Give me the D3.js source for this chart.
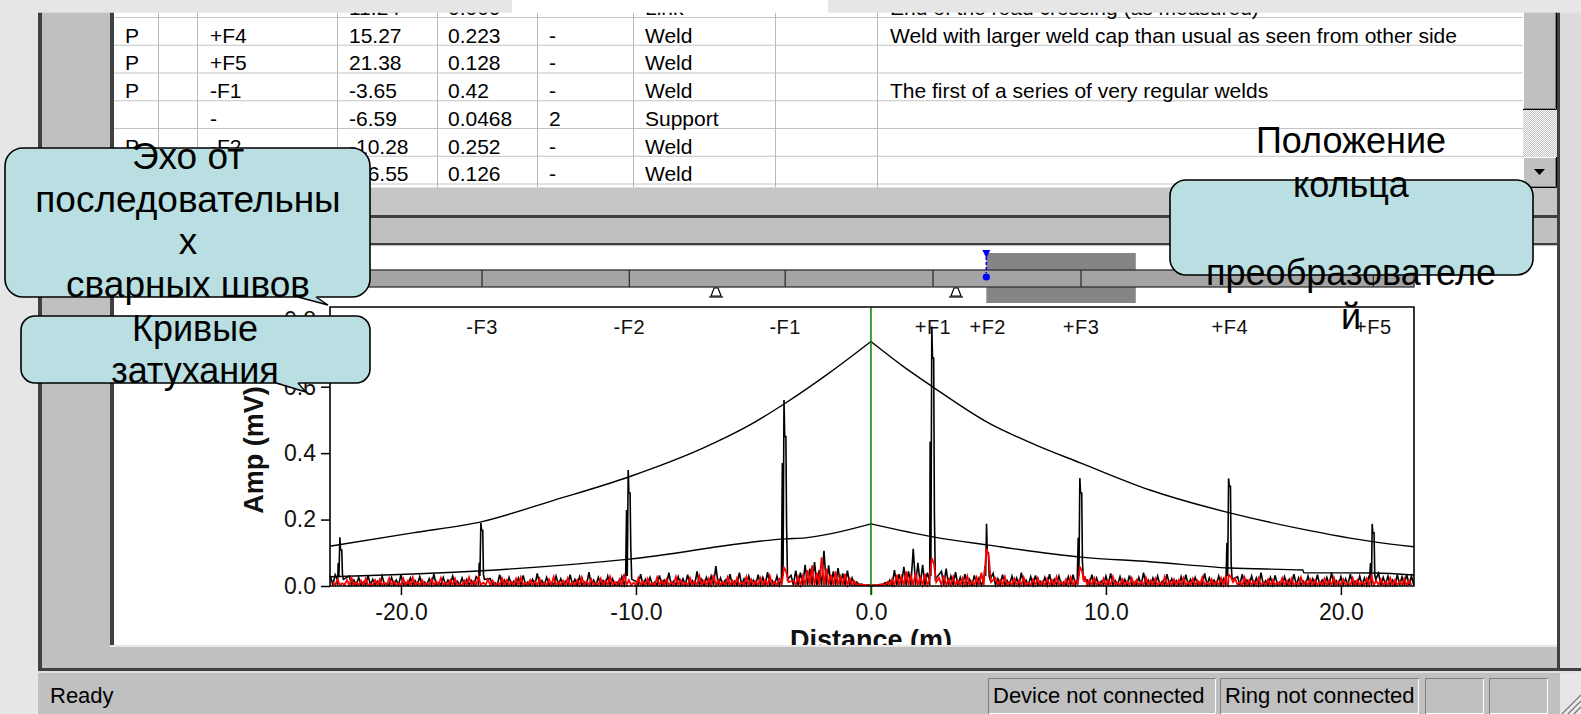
<!DOCTYPE html>
<html><head><meta charset="utf-8">
<script src="https://cdn.jsdelivr.net/npm/d3@7"></script>
<style>
html,body{margin:0;padding:0;background:#e6e6e6;overflow:hidden}
svg{display:block}
text{font-family:"Liberation Sans",Arial,sans-serif}
</style></head><body>
<svg id="c" width="1581" height="714"></svg>
<script>
// ================= DATA =================
const tableRows = [
  ['', '', '-', '11.24', '0.000', '', 'Link', '', 'End of the road crossing (as measured)'],
  ['P', '', '+F4', '15.27', '0.223', '-', 'Weld', '', 'Weld with larger weld cap than usual as seen from other side'],
  ['P', '', '+F5', '21.38', '0.128', '-', 'Weld', '', ''],
  ['P', '', '-F1', '-3.65', '0.42', '-', 'Weld', '', 'The first of a series of very regular welds'],
  ['', '', '-', '-6.59', '0.0468', '2', 'Support', '', ''],
  ['P', '', '-F2', '-10.28', '0.252', '-', 'Weld', '', ''],
  ['P', '', '-F3', '-16.55', '0.126', '-', 'Weld', '', '']
];
const xDomain = [-23.02, 23.11];
const yDomain = [0, 0.84];
const xTicks = [-20, -10, 0, 10, 20];
const yTicks = [0, 0.2, 0.4, 0.6, 0.8];
const xTitle = 'Distance (m)';
const yTitle = 'Amp (mV)';
const featureLabels = ['-F3', '-F2', '-F1', '+F1', '+F2', '+F3', '+F4', '+F5'];
const featureLabelX = [-16.55, -10.28, -3.65, 2.64, 4.97, 8.94, 15.27, 21.38];
// upper and lower distance-amplitude (decay) curves
const upperX = [-23.02, -19.5, -16.55, -13.5, -10.28, -7.15, -5.15, -3.63, -1.8, 0, 1.3, 2.64, 5.0, 7.0, 8.94, 11.87, 15.27, 18.3, 21.4, 23.11];
const upperY = [0.120, 0.160, 0.194, 0.258, 0.329, 0.415, 0.485, 0.551, 0.640, 0.736, 0.665, 0.599, 0.491, 0.425, 0.370, 0.289, 0.220, 0.172, 0.133, 0.118];
const lowerX = [-23.02, -16.55, -10.28, -3.63, -2.8, 0, 2.64, 5.0, 8.94, 11.87, 15.27, 18.38, 18.42, 21.4, 23.11];
const lowerY = [0.028, 0.046, 0.081, 0.142, 0.145, 0.187, 0.148, 0.123, 0.087, 0.073, 0.054, 0.048, 0.040, 0.039, 0.033];
// echo peaks of the black trace
const spikeX   = [-22.55, -16.55, -10.28, -3.65, 2.64, 4.97, 8.94, 15.27, 21.38];
const spikeTop = [0.147, 0.190, 0.349, 0.560, 0.781, 0.187, 0.325, 0.324, 0.187];
const spikeMid = [0.108, 0.168, 0.280, 0.450, 0.686, 0.100, 0.280, 0.300, 0.160];
const spikeLow = [0.069, 0.070, 0.229, 0.370, 0.435, 0.060, 0.145, 0.130, 0.069];
// peaks of the red trace
const redSpikeX = [-3.65, 2.64, 4.97, 8.94, 15.27];
const redSpikeH = [0.055, 0.084, 0.113, 0.057, 0.035];
// background noise (mV*1000), one value every 0.2 m
const blackNoiseStart = -23.0, redNoiseStart = -22.9, noiseStep = 0.2;
const blackNoise = [30,34,28,36,30,18,26,12,32,20, 14,30,8,26,18,34,10,24,16,28, 12,22,36,10,26,18,30,14,24,20,
 16,28,12,30,22,10,34,18,26,14, 24,32,12,20,38,16,26,10,30,22, 14,34,20,28,12,42,18,26,16,30,
 22,12,28,18,30,14,36,20,26,12, 32,18,40,14,28,22,34,16,44,20, 26,30,60,24,18,36,14,40,22,30,
 18,34,26,42,16,30,38,20,32,46, 40,64,52,72,48,106,62,44,54,38, 46,24,12,6,3,1,2,5,10,18,
 48,36,58,44,112,70,64,40,56,50, 44,52,30,42,26,36,20,32,24,30, 28,38,22,34,16,30,24,40,18,28,
 32,14,26,36,20,30,12,28,34,22, 26,18,34,24,14,30,38,16,28,20, 32,12,26,40,18,24,30,14,36,22,
 16,28,34,20,26,12,38,24,18,30, 22,34,14,28,36,18,30,24,40,16, 26,32,12,28,20,36,24,14,30,22,
 34,18,26,40,16,28,22,36,14,30, 24,32,20,38,26,30,18,34,28,36, 30];
const redNoise = [12,20,8,18,24,10,16,22,6,18, 20,10,24,14,8,22,16,26,12,18, 8,20,14,24,10,18,22,6,16,26,
 14,28,10,20,16,8,24,18,12,22, 26,10,18,14,22,8,20,28,12,16, 24,10,18,26,14,20,8,22,16,28,
 12,20,36,18,10,24,14,22,8,26, 16,20,12,28,18,10,24,14,30,16, 22,34,18,12,26,16,24,10,28,20,
 14,24,18,30,12,22,34,26,16,28, 30,48,62,40,86,52,34,44,28,36, 22,14,6,3,1,1,2,6,12,20,
 34,28,44,30,40,26,36,36,30,24, 32,20,28,16,24,30,14,26,40,36, 44,24,18,28,12,22,16,26,10,20,
 24,14,22,18,28,12,20,26,16,22, 30,18,24,12,22,16,28,10,20,14, 24,18,12,26,16,22,10,28,14,20,
 18,24,12,22,16,26,10,20,14,24, 30,16,22,12,26,18,14,24,10,20, 18,12,24,16,22,10,26,14,20,18,
 12,22,16,26,14,20,10,24,18,12, 22,30,16,20,12,24,18,14,22,16];
// pipe diagram
const pipeJoints = [-22.55, -16.55, -10.28, -3.65, 2.64, 8.94, 15.27, 21.38];
const supportX = [-6.59, 3.62];
const ringRange = [4.91, 11.27];
// callouts and status bar
const calloutEcho = ['Эхо от', 'последовательны', 'х', 'сварных швов'];
const calloutDecay = ['Кривые', 'затухания'];
const calloutRing = ['Положение', 'кольца', '', 'преобразователе', 'й'];
const statusLeft = 'Ready';
const statusPanels = ['Device not connected', 'Ring not connected', '', ''];

// ================= DRAWING =================
const svg = d3.select('#c');
const defs = svg.append('defs');
const pat = defs.append('pattern').attr('id', 'dither').attr('width', 2).attr('height', 2).attr('patternUnits', 'userSpaceOnUse');
pat.append('rect').attr('width', 2).attr('height', 2).attr('fill', '#c0c0c0');
pat.append('rect').attr('width', 1).attr('height', 1).attr('fill', '#fff');
pat.append('rect').attr('x', 1).attr('y', 1).attr('width', 1).attr('height', 1).attr('fill', '#fff');
defs.append('clipPath').attr('id', 'tableClip').append('rect').attr('x', 114).attr('y', 0).attr('width', 1409).attr('height', 187);
defs.append('clipPath').attr('id', 'paneClip').append('rect').attr('x', 114).attr('y', 245.5).attr('width', 1443).attr('height', 399.5);

function rect(g, x, y, w, h, fill) { return g.append('rect').attr('x', x).attr('y', y).attr('width', w).attr('height', h).attr('fill', fill); }
function bevel(g, x0, y0, w, h) {
  rect(g, x0, y0, w, h, '#c0c0c0');
  g.append('path').attr('d', `M${x0 + 0.5},${y0 + h - 1}V${y0 + 0.5}H${x0 + w - 1}`).attr('stroke', '#fff').attr('fill', 'none');
  g.append('path').attr('d', `M${x0},${y0 + h - 0.5}H${x0 + w - 0.5}V${y0}`).attr('stroke', '#000').attr('fill', 'none');
  g.append('path').attr('d', `M${x0 + 1},${y0 + h - 1.5}H${x0 + w - 1.5}V${y0 + 1}`).attr('stroke', '#808080').attr('fill', 'none');
}
function sunken(g, x0, y0, w, h) {
  g.append('path').attr('d', `M${x0 + 0.5},${y0 + h}V${y0 + 0.5}H${x0 + w}`).attr('stroke', '#808080').attr('fill', 'none');
  g.append('path').attr('d', `M${x0 + 1},${y0 + h - 0.5}H${x0 + w - 0.5}V${y0 + 1}`).attr('stroke', '#fff').attr('fill', 'none');
}

const bg = svg.append('g');
rect(bg, 0, 0, 1581, 714, '#e6e6e6');
rect(bg, 38, 0, 1522, 714, '#c0c0c0');
rect(bg, 38, 0, 4, 671, '#404040');
rect(bg, 1560, 0, 21, 671, '#dcdcdc');

// ---- table pane ----
rect(bg, 110, 0, 4, 218, '#404040');
rect(bg, 114, 0, 1409, 187, '#fff');
const tg = svg.append('g').attr('clip-path', 'url(#tableClip)');
const rowH = 27.75, row1Top = 18;
const colLines = [158, 197, 337, 437, 537, 633, 775, 877];
const cellX = [125, null, 210, 349, 448, 549, 645, null, 890];
tableRows.forEach((r, i) => {
  const top = row1Top + (i - 1) * rowH;
  tg.append('line').attr('x1', 114).attr('x2', 1523).attr('y1', top + rowH - 0.5).attr('y2', top + rowH - 0.5).attr('stroke', '#c4c4c4');
  r.forEach((c, j) => {
    if (!c || cellX[j] == null) return;
    tg.append('text').attr('x', cellX[j]).attr('y', top + 24.5).attr('font-size', 21).attr('fill', '#000').text(c);
  });
});
colLines.forEach(cx => tg.append('line').attr('x1', cx + 0.5).attr('x2', cx + 0.5).attr('y1', 0).attr('y2', 187).attr('stroke', '#b8b8b8'));

// vertical scrollbar
const sb = svg.append('g');
rect(sb, 1523, 110, 34, 47, 'url(#dither)');
bevel(sb, 1523, 0, 34, 110);
bevel(sb, 1523, 157, 34, 31);
sb.append('path').attr('d', 'M1534,169L1545,169L1539.5,175Z').attr('fill', '#000');

// band between panes
rect(bg, 114, 187, 1446, 28, '#c6c6c6');
rect(bg, 114, 187, 1446, 1, '#e0e0e0');
rect(bg, 110, 215, 1450, 3, '#404040');
rect(bg, 110, 243, 1450, 2.5, '#404040');
rect(bg, 110, 243, 4, 404, '#404040');
rect(bg, 114, 245.5, 1443, 399.5, '#fff');
rect(bg, 110, 645, 1450, 2, '#e8e8e8');
rect(bg, 1557, 0, 3, 671, '#404040');
rect(bg, 38, 668, 1543, 3, '#404040');
rect(bg, 38, 671, 1543, 2, '#e0e0e0');

// ---- chart ----
const x = d3.scaleLinear().domain(xDomain).range([330, 1414]);
const y = d3.scaleLinear().domain(yDomain).range([586, 307]);
const pane = svg.append('g').attr('clip-path', 'url(#paneClip)');

// pipe diagram: ring, pipe bar, joints, supports, ring marker
pane.append('rect').attr('x', x(ringRange[0])).attr('y', 253).attr('width', x(ringRange[1]) - x(ringRange[0])).attr('height', 50).attr('fill', '#858585');
pane.append('rect').attr('x', x(xDomain[0])).attr('y', 270).attr('width', x(xDomain[1]) - x(xDomain[0])).attr('height', 17)
  .attr('fill', '#a4a4a4').attr('stroke', '#303030').attr('stroke-width', 1.3);
pane.selectAll('line.joint').data(pipeJoints).enter().append('line').attr('class', 'joint')
  .attr('x1', d => x(d)).attr('x2', d => x(d)).attr('y1', 270).attr('y2', 287).attr('stroke', '#303030').attr('stroke-width', 1.3);
supportX.forEach(s => {
  const sx = x(s);
  pane.append('path').attr('d', `M${sx - 2},288L${sx + 2},288L${sx + 5},296L${sx - 5},296Z`).attr('fill', '#fff').attr('stroke', '#000').attr('stroke-width', 1.2);
  pane.append('line').attr('x1', sx - 7).attr('x2', sx + 7).attr('y1', 297).attr('y2', 297).attr('stroke', '#000').attr('stroke-width', 1.2);
});
{
  const mx = x(ringRange[0]);
  pane.append('path').attr('d', `M${mx - 4},250L${mx + 4},250L${mx},258Z`).attr('fill', '#0000ff');
  pane.append('line').attr('x1', mx).attr('x2', mx).attr('y1', 257).attr('y2', 273).attr('stroke', '#0000ff').attr('stroke-width', 1.6).attr('stroke-dasharray', '3,2');
  pane.append('circle').attr('cx', mx).attr('cy', 277).attr('r', 3.6).attr('fill', '#0000ff');
}

// axes
const fmt = d => d.toFixed(1);
const xAxis = pane.append('g').attr('transform', 'translate(0,586)')
  .call(d3.axisBottom(x).tickValues(xTicks).tickFormat(fmt).tickSize(9).tickPadding(9));
const yAxis = pane.append('g').attr('transform', 'translate(330,0)')
  .call(d3.axisLeft(y).tickValues(yTicks).tickFormat(fmt).tickSize(9).tickPadding(5));
[xAxis, yAxis].forEach(a => {
  a.attr('font-size', 23).attr('font-family', '"Liberation Sans", Arial, sans-serif');
  a.select('.domain').remove();
  a.selectAll('line').attr('stroke', '#000').attr('stroke-width', 1.5);
  a.selectAll('text').attr('fill', '#111');
});

// feature labels
pane.selectAll('text.flab').data(featureLabels).enter().append('text').attr('class', 'flab')
  .attr('x', (d, i) => x(featureLabelX[i])).attr('y', 334).attr('text-anchor', 'middle')
  .attr('font-size', 20).attr('letter-spacing', 0.5).attr('fill', '#111').text(d => d);

// decay curves (each side of the peak drawn as a smooth monotone curve)
const line = d3.line().x(d => x(d[0])).y(d => y(d[1]));
const smooth = d3.line().x(d => x(d[0])).y(d => y(d[1])).curve(d3.curveMonotoneX);
function drawEnvelope(xs, ys) {
  const pts = xs.map((v, i) => [v, ys[i]]);
  const left = pts.filter(p => p[0] <= 0), right = pts.filter(p => p[0] >= 0);
  [left, right].forEach(part => pane.append('path').attr('d', smooth(part)).attr('fill', 'none').attr('stroke', '#000').attr('stroke-width', 1.4));
}
drawEnvelope(upperX, upperY);
drawEnvelope(lowerX, lowerY);

// traces: noise drawn as a sawtooth from the floor, with echo peaks inserted
const floorV = 0.003;
function tracePoints(noise, start, peaksX, peakFn, halfW) {
  const pts = [];
  noise.forEach((v, i) => {
    const xv = start + i * noiseStep;
    if (peaksX.some(p => Math.abs(p - xv) < halfW)) return;
    pts.push([xv, v / 1000]);
    pts.push([xv + noiseStep / 2, floorV]);
  });
  peaksX.forEach((p, i) => peakFn(p, i).forEach(q => pts.push(q)));
  pts.sort((a, b) => a[0] - b[0]);
  return pts.filter(p => p[0] >= xDomain[0] && p[0] <= xDomain[1]);
}
const blackPts = tracePoints(blackNoise, blackNoiseStart, spikeX, (p, i) => [
  [p - 0.16, 0.02], [p - 0.12, spikeLow[i]], [p - 0.09, 0.03], [p - 0.05, spikeTop[i]],
  [p - 0.02, spikeMid[i]], [p + 0.03, spikeMid[i]], [p + 0.06, spikeLow[i] * 0.5], [p + 0.1, 0.02]
], 0.17);
const redPts = tracePoints(redNoise, redNoiseStart, redSpikeX, (p, i) => [
  [p - 0.16, 0.015], [p - 0.05, redSpikeH[i]], [p + 0.04, redSpikeH[i] * 0.8], [p + 0.14, 0.012]
], 0.16);
pane.append('path').attr('d', line(blackPts)).attr('fill', 'none').attr('stroke', '#000').attr('stroke-width', 1.6);
pane.append('path').attr('d', line(redPts)).attr('fill', 'none').attr('stroke', '#ff0000').attr('stroke-width', 1.8);

// zero marker (green)
pane.append('line').attr('x1', x(0)).attr('x2', x(0)).attr('y1', y(yDomain[1])).attr('y2', 595).attr('stroke', '#008000').attr('stroke-width', 1.5);

// plot frame
pane.append('path').attr('d', `M${x(xDomain[0])},${y(0)}V${y(yDomain[1])}H${x(xDomain[1])}V${y(0)}Z`)
  .attr('fill', 'none').attr('stroke', '#000').attr('stroke-width', 1.6);

// axis titles
pane.append('text').attr('x', x(0)).attr('y', 649).attr('text-anchor', 'middle').attr('font-size', 27).attr('font-weight', 'bold').attr('fill', '#111').text(xTitle);
pane.append('text').attr('transform', 'translate(263,450) rotate(-90)').attr('text-anchor', 'middle').attr('font-size', 27).attr('font-weight', 'bold').attr('fill', '#111').text(yTitle);

// ---- status bar ----
const st = svg.append('g');
st.append('text').attr('x', 50).attr('y', 703).attr('font-size', 22).attr('fill', '#000').text(statusLeft);
const panelX = [988, 1220, 1425, 1489], panelW = [228, 199, 59, 59];
statusPanels.forEach((t, i) => {
  sunken(st, panelX[i], 678, panelW[i], 36);
  if (t) st.append('text').attr('x', panelX[i] + 5).attr('y', 703).attr('font-size', 22).attr('fill', '#000').text(t);
});
[0, 6, 12].forEach(k => {
  st.append('line').attr('x1', 1562 + k).attr('y1', 714).attr('x2', 1581).attr('y2', 695 + k).attr('stroke', '#808080').attr('stroke-width', 1.5);
  st.append('line').attr('x1', 1564 + k).attr('y1', 714).attr('x2', 1581).attr('y2', 697 + k).attr('stroke', '#fff').attr('stroke-width', 1);
});

// ---- top strip ----
rect(svg, 0, 0, 512, 12.7, '#e6e6e6');
rect(svg, 512, 0, 316, 12.7, '#fff');
rect(svg, 828, 0, 753, 12.7, '#e6e6e6');

// ---- callouts ----
const cFill = '#b9dfe2';
function callout(bx, by, bw, bh, r, lines, cx, base0, lh, fs, tail) {
  const g = svg.append('g');
  g.append('rect').attr('x', bx).attr('y', by).attr('width', bw).attr('height', bh).attr('rx', r).attr('ry', r)
    .attr('fill', cFill).attr('stroke', '#000').attr('stroke-width', 1.6);
  if (tail) {
    const [ax, bx2, tx, ty] = tail, yb = by + bh;
    g.append('path').attr('d', `M${ax},${yb - 1}L${tx},${ty}L${bx2},${yb - 1}Z`).attr('fill', cFill);
    g.append('path').attr('d', `M${ax},${yb}L${tx},${ty}L${bx2},${yb}`).attr('fill', 'none').attr('stroke', '#000').attr('stroke-width', 1.4);
  }
  lines.forEach((t, i) => {
    if (!t) return;
    g.append('text').attr('x', cx).attr('y', base0 + i * lh).attr('text-anchor', 'middle').attr('font-size', fs).attr('fill', '#000').text(t);
  });
}
callout(5, 148, 365, 149, 18, calloutEcho, 188, 169, 42.7, 37, [298, 316, 328, 305]);
callout(21, 316, 349, 67, 14, calloutDecay, 195, 341, 42, 36, [276, 298, 306, 392]);
callout(1170, 180, 363, 95, 16, calloutRing, 1351, 153, 44, 36, null);
</script>
</body></html>
